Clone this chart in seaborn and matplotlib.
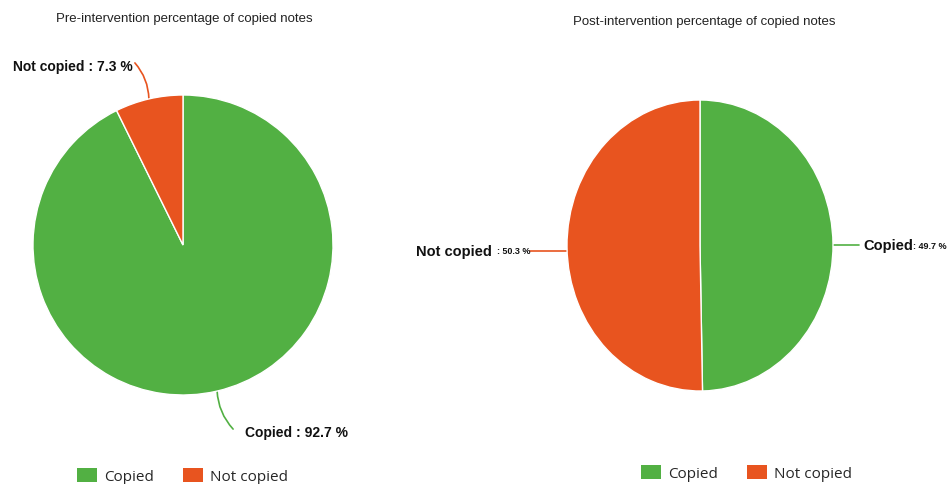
import numpy as np
import pandas as pd
import seaborn as sns
import matplotlib
matplotlib.use("Agg")
import matplotlib.pyplot as plt
from matplotlib.patches import Patch

# ---- data ----
categories = ["Copied", "Not copied"]
pre_values = [92.7, 7.3]
post_values = [49.7, 50.3]
titles = ["Pre-intervention percentage of copied notes",
          "Post-intervention percentage of copied notes"]

sns.set_theme(style="white")
plt.rcParams['font.family'] = ['Liberation Sans', 'DejaVu Sans']

colors = ["#52B043", "#E8541F"]

W, H = 950, 485
fig = plt.figure(figsize=(W / 100, H / 100), dpi=100)
ax = fig.add_axes([0, 0, 1, 1])
ax.set_xlim(0, W)
ax.set_ylim(H, 0)
ax.axis("off")

# pie boxes in pixels: left, top, width, height
pies = [
    dict(values=pre_values, box=(33, 96, 300, 300), title_xy=(184, 19)),
    dict(values=post_values, box=(567, 101, 266, 291), title_xy=(704, 22)),
]

wedge_sets = []
for p in pies:
    l, t, w, h = p["box"]
    pax = fig.add_axes([l / W, 1 - (t + h) / H, w / W, h / H])
    wedges, _ = pax.pie(p["values"], colors=colors, startangle=90, counterclock=False,
                        radius=1, wedgeprops=dict(edgecolor="white", linewidth=1.0))
    pax.set_aspect("auto")
    pax.set_xlim(-1, 1)
    pax.set_ylim(-1, 1)
    pax.axis("off")
    wedge_sets.append(wedges)

for p, t in zip(pies, titles):
    ax.text(p["title_xy"][0], p["title_xy"][1], t, ha="center", va="center",
            fontsize=9.5, color="#222222")

def edge_point(p, wedge):
    l, t, w, h = p["box"]
    cx, cy = l + w / 2, t + h / 2
    ang = np.deg2rad((wedge.theta1 + wedge.theta2) / 2)
    return cx + w / 2 * np.cos(ang), cy - h / 2 * np.sin(ang)

bold = dict(fontsize=10, fontweight="bold", color="#111111")

def leader(start, end, color, rad):
    ax.annotate("", xy=end, xytext=start,
                arrowprops=dict(arrowstyle="-", color=color, lw=1.2,
                                connectionstyle=f"arc3,rad={rad}",
                                shrinkA=0, shrinkB=0))

# Pre pie labels
p = pies[0]
x, y = edge_point(p, wedge_sets[0][1])
leader((x - 14, y - 36), (x, y), colors[1], -0.18)
ax.text(x - 16, y - 33, f"{categories[1]} : {pre_values[1]} %", ha="right", va="center", **bold)
x, y = edge_point(p, wedge_sets[0][0])
leader((x, y), (x + 16, y + 38), colors[0], 0.18)
ax.text(x + 28, y + 41, f"{categories[0]} : {pre_values[0]} %", ha="left", va="center", **bold)

# Post pie labels
p = pies[1]
x, y = edge_point(p, wedge_sets[1][1])
ax.plot([x - 37, x], [y + 4, y + 4], color=colors[1], lw=1.2)
ax.text(x - 37, y + 4, f": {post_values[1]} %", ha="right", va="center",
        fontsize=6.5, fontweight="bold", color="#111111")
ax.text(x - 75, y + 4, categories[1], ha="right", va="center",
        fontsize=10.5, fontweight="bold", color="#111111")
x, y = edge_point(p, wedge_sets[1][0])
ax.plot([x, x + 26], [y + 1, y + 1], color=colors[0], lw=1.2)
ax.text(x + 30, y + 1, categories[0], ha="left", va="center",
        fontsize=10.5, fontweight="bold", color="#111111")
ax.text(x + 80, y + 1, f": {post_values[0]} %", ha="left", va="center",
        fontsize=6.5, fontweight="bold", color="#111111")

handles = [Patch(facecolor=c, edgecolor="none") for c in colors]
for anchor in [(77 / W, 1 - 477 / H), (641 / W, 1 - 474 / H)]:
    fig.legend(handles, categories, loc="center left", bbox_to_anchor=anchor,
               ncol=2, frameon=False, handlelength=1.3, handleheight=1.0,
               handletextpad=0.45, columnspacing=1.95, borderpad=0, borderaxespad=0,
               prop=dict(family="Open Sans", size=11))

fig.savefig("out.png", dpi=100, facecolor="white")
